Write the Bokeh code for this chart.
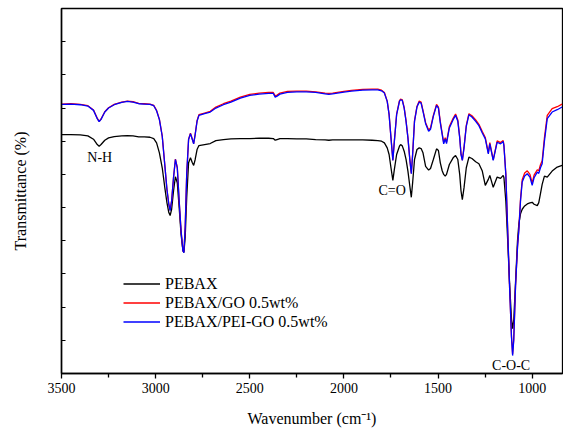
from bokeh.plotting import figure
from bokeh.models import Range1d, FixedTicker, Legend, LegendItem, Label, CustomJSTickFormatter
from bokeh.embed import file_html
from bokeh.resources import INLINE

# wavenumber (cm-1)
wn = [3500, 3450, 3400, 3360, 3330, 3310, 3300, 3290, 3270, 3250, 3220, 3180, 3150, 3120, 3090,
      3060, 3030, 3010, 2995, 2980, 2965, 2950, 2940, 2930, 2923, 2915, 2905, 2895, 2885, 2875,
      2865, 2855, 2850, 2843, 2835, 2825, 2815, 2805, 2798, 2790, 2780, 2770, 2740, 2710, 2680,
      2640, 2600, 2550, 2500, 2450, 2400, 2375, 2365, 2355, 2340, 2300, 2250, 2200, 2150, 2100,
      2080, 2060, 2000, 1960, 1900, 1850, 1820, 1800, 1785, 1770, 1760, 1750, 1740, 1732, 1720,
      1705, 1699, 1690, 1680, 1670, 1660, 1650, 1642, 1635, 1625, 1612, 1600, 1590, 1580, 1566,
      1550, 1540, 1525, 1508, 1498, 1488, 1478, 1470, 1462, 1455, 1440, 1420, 1407, 1395, 1385,
      1378, 1371, 1362, 1350, 1336, 1320, 1300, 1283, 1265, 1249, 1233, 1225, 1207, 1186, 1168,
      1154, 1150, 1140, 1130, 1120, 1110, 1104, 1098, 1088, 1078, 1071, 1062, 1053, 1040, 1026,
      1012, 1000, 990, 973, 965, 956, 947, 935, 920, 894, 867, 841]

pebax = [72.0, 72.0, 71.9, 71.6, 70.6, 69.0, 68.5, 69.0, 70.3, 71.0, 71.4, 71.6, 71.7, 71.6, 71.3,
         71.3, 71.2, 70.8, 69.5, 66.5, 62.0, 55.5, 51.5, 48.5, 47.6, 49.5, 55.0, 59.3, 57.5, 50.0,
         42.0, 37.0, 36.5, 41.0, 53.0, 63.5, 65.0, 63.5, 62.7, 64.5, 67.5, 68.7, 69.0, 69.3, 70.2,
         70.5, 70.7, 70.8, 70.8, 70.9, 70.9, 70.8, 70.3, 70.5, 70.8, 70.8, 70.7, 70.7, 70.5, 70.4,
         70.3, 70.4, 70.4, 70.4, 70.4, 70.3, 70.2, 70.0, 69.5, 68.0, 66.0, 62.0, 58.2, 61.5, 66.0,
         68.5, 69.0, 68.6, 67.0, 64.5, 61.0, 56.5, 53.1, 57.5, 64.5, 67.5, 68.0, 67.8, 66.5, 62.4,
         61.3, 61.8, 64.5, 67.7, 67.2, 63.5, 61.1, 60.0, 59.5, 60.0, 63.0, 65.0, 65.7, 64.5, 60.0,
         55.0, 52.4, 56.0, 62.0, 65.2, 64.8, 63.8, 63.2, 61.0, 56.7, 58.5, 59.7, 56.1, 59.2, 58.8,
         59.7, 59.0, 52.0, 40.0, 27.0, 16.5, 13.5, 16.0, 28.0, 40.0, 45.0, 48.1, 49.5, 50.5, 51.1,
         51.4, 51.6, 51.0, 50.6, 51.5, 54.2, 57.0, 59.5, 59.2, 61.0, 62.2, 62.7]

pebax_pei_go = [81.1, 81.2, 81.0, 80.6, 79.3, 76.8, 75.9, 76.6, 78.8, 80.0, 81.0, 81.7, 82.0, 81.8, 81.3,
                81.2, 81.1, 80.7, 79.2, 76.5, 71.5, 62.0, 55.5, 51.0, 49.1, 52.0, 59.0, 64.5, 62.0, 52.0,
                43.0, 37.0, 36.4, 44.0, 60.0, 70.5, 72.3, 70.5, 69.2, 72.0, 76.0, 77.8, 78.3, 78.8, 80.0,
                81.0, 81.8, 83.0, 83.8, 84.2, 84.4, 84.4, 83.3, 83.6, 84.2, 84.7, 84.9, 84.9, 84.7, 84.3,
                84.1, 84.3, 84.8, 85.1, 85.4, 85.5, 85.5, 85.2, 84.5, 82.0, 78.0, 71.0, 64.2, 70.0, 78.0,
                82.0, 82.5, 82.3, 80.0, 76.0, 71.0, 64.5, 60.2, 66.0, 76.0, 80.3, 81.8, 81.5, 79.0, 75.3,
                73.0, 73.6, 77.5, 80.8, 80.0, 75.5, 72.0, 69.2, 70.7, 69.3, 74.0, 76.5, 77.8, 76.0, 71.0,
                66.0, 64.2, 68.0, 74.5, 78.0, 77.3, 76.0, 74.7, 72.5, 70.7, 66.2, 69.2, 64.2, 69.7, 69.2,
                69.9, 68.5, 60.0, 43.0, 26.0, 11.0, 5.4, 10.0, 27.0, 38.0, 43.1, 52.0, 57.7, 59.5, 60.2,
                59.2, 56.7, 59.0, 60.7, 60.3, 62.0, 63.2, 70.0, 76.8, 78.8, 79.5, 80.3]

pebax_go = [81.2, 81.3, 81.1, 80.7, 79.4, 76.9, 76.0, 76.7, 78.9, 80.1, 81.1, 81.8, 82.1, 81.9, 81.4,
            81.3, 81.2, 80.8, 79.3, 76.6, 71.6, 62.0, 55.5, 51.0, 49.2, 52.1, 59.1, 64.6, 62.1, 52.0,
            43.0, 37.0, 36.6, 44.1, 60.1, 70.6, 72.4, 70.6, 69.3, 72.1, 76.2, 78.0, 78.5, 79.0, 80.3,
            81.3, 82.1, 83.3, 84.1, 84.5, 84.7, 84.7, 83.7, 83.9, 84.5, 85.0, 85.1, 85.1, 84.9, 84.5,
            84.4, 84.5, 85.0, 85.3, 85.6, 85.7, 85.7, 85.4, 84.7, 82.1, 78.1, 71.1, 64.3, 70.1, 78.2,
            82.2, 82.7, 82.5, 80.2, 76.2, 71.1, 64.6, 60.3, 66.1, 76.2, 80.5, 82.1, 81.8, 79.3, 75.6,
            73.4, 74.0, 77.8, 81.1, 80.3, 75.9, 72.4, 69.6, 71.1, 69.7, 74.4, 76.9, 78.2, 76.4, 71.3,
            66.2, 64.3, 68.2, 74.8, 78.3, 77.7, 76.4, 75.1, 72.9, 71.1, 66.5, 69.6, 64.4, 70.1, 69.6,
            70.2, 68.8, 60.1, 43.0, 26.0, 11.3, 5.8, 10.3, 27.1, 38.3, 43.5, 52.6, 58.4, 60.4, 61.1,
            60.0, 57.4, 59.8, 61.4, 61.1, 62.9, 64.1, 71.0, 77.8, 79.8, 80.4, 81.2]

x_ticks = [3500, 3000, 2500, 2000, 1500, 1000]
x_minor = [3250, 2750, 2250, 1750, 1250]
y_ticks = [10, 20, 30, 40, 50, 60, 70, 80, 90, 100]

series_names = ["PEBAX", "PEBAX/GO 0.5wt%", "PEBAX/PEI-GO 0.5wt%"]
peak_labels = ["N-H", "C=O", "C-O-C"]
peak_x = [3297, 1744, 1112]
peak_y = [65.1, 55.2, 2.4]

FONT = "Times New Roman"

p = figure(width=563, height=435, output_backend="svg", toolbar_location=None,
           x_range=Range1d(3500, 839), y_range=Range1d(0, 110),
           min_border_left=61, min_border_right=1, min_border_top=8, min_border_bottom=62)
p.background_fill_color = "white"
p.border_fill_color = "white"
p.outline_line_color = "black"
p.outline_line_width = 1.3
p.xgrid.visible = False
p.ygrid.visible = False

xa = p.xaxis[0]
xa.ticker = FixedTicker(ticks=x_ticks, minor_ticks=x_minor)
xa.major_tick_in = 0
xa.major_tick_out = 5
xa.minor_tick_in = 0
xa.minor_tick_out = 4
xa.axis_line_width = 1.5
xa.major_tick_line_width = 1.3
xa.minor_tick_line_width = 1.3
xa.major_label_text_font = FONT
xa.major_label_text_font_size = "14px"
xa.major_label_text_color = "black"
xa.major_label_standoff = 4
xa.axis_label = "Wavenumber (cm\u207b\u00b9)"
xa.axis_label_text_font = FONT
xa.axis_label_text_font_size = "16px"
xa.axis_label_text_font_style = "normal"
xa.axis_label_text_color = "black"
xa.axis_label_standoff = 14

ya = p.yaxis[0]
ya.ticker = FixedTicker(ticks=y_ticks, minor_ticks=[])
ya.formatter = CustomJSTickFormatter(code="return ''")
ya.major_tick_in = 4
ya.major_tick_out = 0
ya.minor_tick_in = 0
ya.minor_tick_out = 0
ya.axis_line_width = 1.5
ya.major_tick_line_width = 1.2
ya.axis_label = "Transmittance (%)"
ya.axis_label_text_font = FONT
ya.axis_label_text_font_size = "16px"
ya.axis_label_text_font_style = "normal"
ya.axis_label_text_color = "black"
ya.axis_label_standoff = 33

r0 = p.line(wn, pebax, line_color="black", line_width=1.3)
r1 = p.line(wn, pebax_go, line_color="red", line_width=1.3)
r2 = p.line(wn, pebax_pei_go, line_color="blue", line_width=1.3)

legend = Legend(items=[LegendItem(label=series_names[0], renderers=[r0]),
                       LegendItem(label=series_names[1], renderers=[r1]),
                       LegendItem(label=series_names[2], renderers=[r2])],
                location=(62, 42), orientation="vertical")
legend.border_line_color = None
legend.background_fill_alpha = 0
legend.padding = 0
legend.margin = 0
legend.spacing = 0
legend.glyph_width = 37
legend.glyph_height = 19
legend.label_height = 19
legend.label_standoff = 5
legend.label_text_font = FONT
legend.label_text_font_size = "16px"
legend.label_text_color = "black"
p.add_layout(legend)

for t, x, y in zip(peak_labels, peak_x, peak_y):
    p.add_layout(Label(x=x, y=y, text=t, text_font=FONT, text_font_size="14px",
                       text_align="center", text_baseline="middle", text_color="black"))

open("out.html", "w").write(file_html(p, INLINE))
